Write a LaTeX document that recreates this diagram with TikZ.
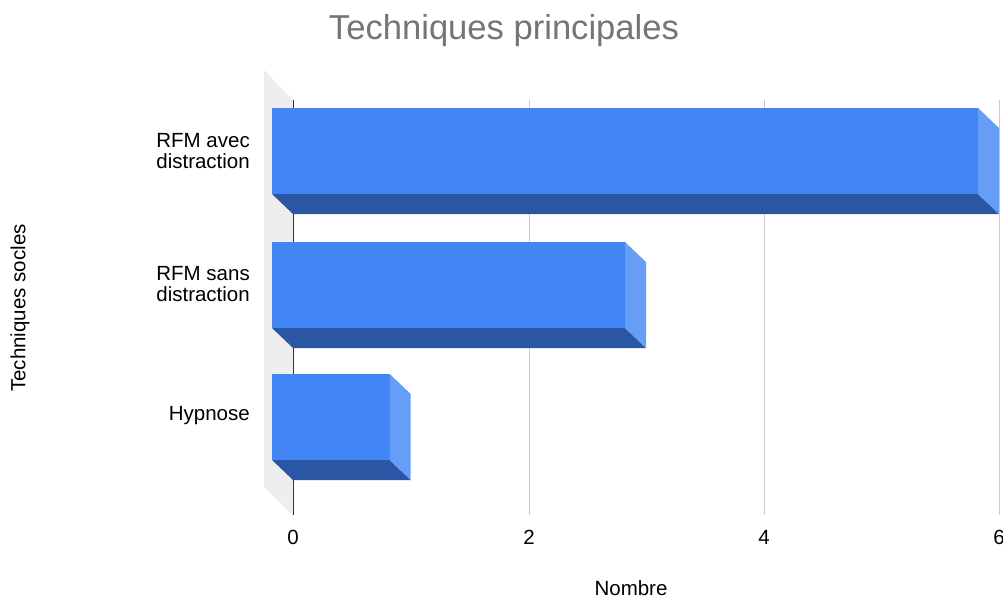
\documentclass[tikz,border=0pt]{standalone}
\usepackage{fontspec}
\setmainfont{Liberation Sans}
\definecolor{barfront}{HTML}{4285F4}
\definecolor{barbottom}{HTML}{2A56A3}
\definecolor{barside}{HTML}{669DF6}
\definecolor{wallgray}{HTML}{EEEEEE}
\definecolor{gridgray}{HTML}{CCCCCC}
\definecolor{titlegray}{HTML}{757575}
\definecolor{axisdark}{HTML}{333333}
\begin{document}
\begin{tikzpicture}[x=1pt,y=-1pt,
  lbl/.style={font=\fontsize{20.5}{21}\selectfont, inner sep=0pt, text=black},
  catlbl/.style={lbl, anchor=east, align=right},
  ticklbl/.style={lbl, anchor=center},
  gridln/.style={draw=gridgray, line width=1pt},
  axisln/.style={draw=axisdark, line width=1pt},
]
\useasboundingbox[fill=white] (0,0) rectangle (1003,599);
% back wall
\fill[wallgray] (264,70) -- (293,100) -- (293,515) -- (264,487) -- cycle;
% grid lines
\foreach \gx in {529,764,999} {\draw[gridln] (\gx,100) -- (\gx,515);}
\draw[axisln] (293,100) -- (293,515);
% bars: front top y, back right x (value)
\foreach \top/\right in {108/999, 242/646, 374/410.7} {
  \pgfmathsetmacro{\bot}{\top+86}
  \pgfmathsetmacro{\frx}{\right-21}
  \fill[barfront] (272,\top) rectangle (\frx,\bot);
  \fill[barbottom] (272,\bot) -- (\frx,\bot) -- (\right,\bot+20) -- (293,\bot+20) -- cycle;
  \fill[barside] (\frx,\top) -- (\right,\top+20) -- (\right,\bot+20) -- (\frx,\bot) -- cycle;
}
% title
\node[font=\fontsize{34.6}{40}\selectfont, text=titlegray, inner sep=0pt, anchor=base] (title) at (504,40) {Techniques principales};
% category labels
\node[catlbl] (c1) at (250,151) {RFM avec\\distraction};
\node[catlbl] (c2) at (250,284) {RFM sans\\distraction};
\node[catlbl] (c3) at (250,416) {Hypnose};
% tick labels
\node[ticklbl] (t0) at (293,537) {0};
\node[ticklbl] (t2) at (529,537) {2};
\node[ticklbl] (t4) at (764,537) {4};
\node[ticklbl] (t6) at (999,537) {6};
% axis titles
\node[lbl] (xtitle) at (631,588) {Nombre};
\node[lbl, rotate=90] (ytitle) at (20,308) {Techniques socles};
\end{tikzpicture}
\end{document}
